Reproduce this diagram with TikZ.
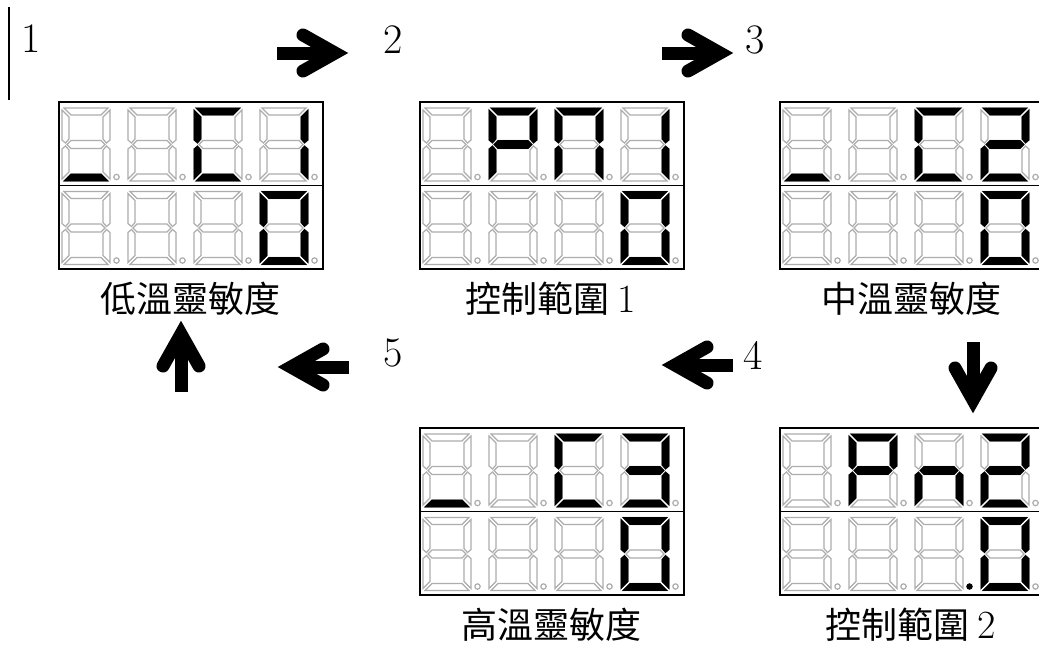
\documentclass[tikz,border=0pt]{standalone}
\usepackage{fontspec}
\newfontfamily\cjk{Noto Sans CJK TC}
% seven-segment geometry (cell-local, y downward)
\def\sega{(6,7) -- (50,7) -- (43,14) -- (13,14) -- cycle}
\def\segf{(4,9) -- (11,16) -- (11,38) -- (7.5,42) -- (4,39) -- cycle}
\def\segb{(52,9) -- (52,39) -- (48.5,42) -- (45,38) -- (45,16) -- cycle}
\def\segg{(9,43.5) -- (13,39.5) -- (43,39.5) -- (47,43.5) -- (43,47.5) -- (13,47.5) -- cycle}
\def\sege{(4,48) -- (7.5,45) -- (11,49) -- (11,71) -- (4,78) -- cycle}
\def\segc{(52,48) -- (52,78) -- (45,71) -- (45,49) -- (48.5,45) -- cycle}
\def\segd{(13,73) -- (43,73) -- (50,80) -- (6,80) -- cycle}
\def\segp{(58.5,76) circle[radius=2.7]}
\newcommand\drawsegaux[2]{\path[#2] #1;}
\newcommand\drawseg[2]{\expandafter\drawsegaux\csname seg#2\endcsname{#1}}
\tikzset{
  lcdframe/.style={draw=black, line width=1.6pt, minimum width=264pt, minimum height=167pt, inner sep=0pt},
  lcdline/.style={draw=black, line width=1.4pt},
  segoff/.style={draw=black!32, line width=1.2pt, fill=white},
  segon/.style={draw=black, fill=black, line width=0.8pt},
  num/.style={font=\fontsize{42}{48}\selectfont, inner sep=0pt},
  lab/.style={font=\cjk\fontsize{36}{40}\selectfont, inner sep=0pt},
  labnum/.style={font=\rmfamily\fontsize{40}{44}\selectfont},
  fatarrow/.pic={
    \draw[line width=13pt] (-71,0) -- (-13,0);
    \draw[line width=13pt, line cap=round, line join=miter] (-45,-18) -- (-13,0) -- (-45,18);
  }
}
\newcommand\lcd[3]{% name, x, y
  \node[lcdframe, anchor=north west] (#1) at (#2,#3) {};
  \draw[lcdline] (#1.west) -- (#1.east);
  \foreach \r in {0,1}{\foreach \c in {0,1,2,3}{%
    \begin{scope}[shift={(#2+66*\c,#3+83.5*\r)}]
      \foreach \s in {a,b,c,d,e,f,g,p}{\drawseg{segoff}{\s}}
    \end{scope}}}%
}
\newcommand\litcell[5]{% x, y, row, col, segments
  \begin{scope}[shift={(#1+66*#4,#2+83.5*#3)}]
    \foreach \s in {#5}{\drawseg{segon}{\s}}
  \end{scope}%
}
\newcommand\lnum[1]{{\rmfamily\fontsize{40}{44}\selectfont #1}}
\begin{document}
\begin{tikzpicture}[x=1pt,y=-1pt]
\useasboundingbox (0,0) rectangle (1039,649);
\clip (0,0) rectangle (1039,649);
\fill[white] (0,0) rectangle (1039,649);

% marker line
\coordinate (m1) at (9,7);
\coordinate (m2) at (9,100);
\draw[line width=2pt] (m1) -- (m2);

% step numbers
\node[num] (n1) at (31,39) {1};
\node[num] (n2) at (393,40) {2};
\node[num] (n3) at (755,40) {3};
\node[num] (n4) at (753,355) {4};
\node[num] (n5) at (393,353) {5};

% displays
\lcd{d1}{58}{101}
\litcell{58}{101}{0}{0}{d}
\litcell{58}{101}{0}{2}{a,f,e,d}
\litcell{58}{101}{0}{3}{b,c}
\litcell{58}{101}{1}{3}{a,b,c,d,e,f}

\lcd{d2}{419}{101}
\litcell{419}{101}{0}{1}{a,b,f,g,e}
\litcell{419}{101}{0}{2}{a,b,c,e,f}
\litcell{419}{101}{0}{3}{b,c}
\litcell{419}{101}{1}{3}{a,b,c,d,e,f}

\lcd{d3}{779}{101}
\litcell{779}{101}{0}{0}{d}
\litcell{779}{101}{0}{2}{a,f,e,d}
\litcell{779}{101}{0}{3}{a,b,g,e,d}
\litcell{779}{101}{1}{3}{a,b,c,d,e,f}

\lcd{d4}{779}{427}
\litcell{779}{427}{0}{1}{a,b,f,g,e}
\litcell{779}{427}{0}{2}{g,e,c}
\litcell{779}{427}{0}{3}{a,b,g,e,d}
\litcell{779}{427}{1}{2}{p}
\litcell{779}{427}{1}{3}{a,b,c,d,e,f}

\lcd{d5}{419}{427}
\litcell{419}{427}{0}{0}{d}
\litcell{419}{427}{0}{2}{a,f,e,d}
\litcell{419}{427}{0}{3}{a,b,g,c,d}
\litcell{419}{427}{1}{3}{a,b,c,d,e,f}

% labels
\node[lab] (l1) at (190,299) {低溫靈敏度};
\node[lab] (l2) at (551,299) {控制範圍 \lnum{1}};
\node[lab] (l3) at (911,299) {中溫靈敏度};
\node[lab] (l4) at (911,625) {控制範圍 \lnum{2}};
\node[lab] (l5) at (551,625) {高溫靈敏度};

% arrows
\pic at (348,53) {fatarrow};
\pic at (733,53) {fatarrow};
\pic[rotate=-90] at (973,413) {fatarrow};
\pic[rotate=180] at (662,365) {fatarrow};
\pic[rotate=180] at (278,367) {fatarrow};
\pic[rotate=90] at (181,321) {fatarrow};
\end{tikzpicture}
\end{document}
